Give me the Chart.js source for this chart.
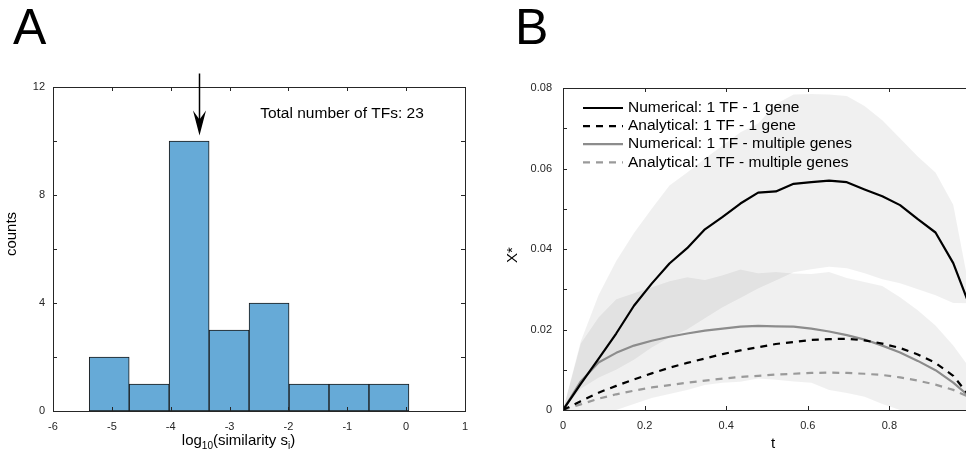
<!DOCTYPE html>
<html>
<head>
<meta charset="utf-8">
<title>TF similarity</title>
<script src="https://cdn.jsdelivr.net/npm/chart.js@4.4.1/dist/chart.umd.min.js"></script>
<style>
  html, body { margin: 0; padding: 0; background: #fff; overflow: hidden; }
  body { width: 966px; height: 455px; position: relative; }
  #wrapA { position: absolute; left: 0; top: 0; }
  #wrapB { position: absolute; left: 480px; top: 0; }
</style>
</head>
<body>
<div id="wrapA"><canvas id="chartA" width="480" height="455"></canvas></div>
<div id="wrapB"><canvas id="chartB" width="500" height="455"></canvas></div>
<script>
const fontFam = '"Liberation Sans", Arial, Helvetica, sans-serif';
const axisColor = '#262626';

// Panel A - histogram of log10 similarity
const binCenters = [-5.045, -4.366, -3.687, -3.008, -2.329, -1.650, -0.971, -0.292];
const binCounts = [2, 1, 10, 3, 4, 1, 1, 1];
const arrowX = -3.52;
const arrowTop = 12.5, arrowTip = 10.2;
const noteText = 'Total number of TFs: 23';
const noteAt = [-2.48, 11.0];

// Panel B - X* over t
const tVals = [0, 0.0435, 0.087, 0.1304, 0.1739, 0.2174, 0.2609, 0.3043, 0.3478, 0.3913, 0.4348, 0.4783,
               0.5217, 0.5652, 0.6087, 0.6522, 0.6957, 0.7391, 0.7826, 0.8261, 0.8696, 0.913, 0.9565, 1.0];
const numOneGene   = [0, 0.0065, 0.0127, 0.019, 0.0259, 0.0314, 0.0364, 0.0402, 0.0449, 0.048, 0.0513, 0.054,
                      0.0543, 0.0562, 0.0566, 0.057, 0.0566, 0.0548, 0.0531, 0.0509, 0.0474, 0.0441, 0.0365, 0.025];
const anaOneGene   = [0, 0.0022, 0.0043, 0.006, 0.0076, 0.0091, 0.0105, 0.0117, 0.0128, 0.0139, 0.0148, 0.0156,
                      0.0164, 0.0169, 0.0174, 0.0176, 0.0177, 0.0173, 0.0165, 0.0154, 0.0138, 0.0117, 0.0085, 0.003];
const numMultiGene = [0, 0.0071, 0.0118, 0.0142, 0.016, 0.0172, 0.0182, 0.019, 0.0197, 0.0202, 0.0207, 0.0209,
                      0.0208, 0.0207, 0.0202, 0.0195, 0.0186, 0.0175, 0.016, 0.0143, 0.0122, 0.0099, 0.0068, 0.003];
const anaMultiGene = [0, 0.0014, 0.0028, 0.0039, 0.0048, 0.0056, 0.0062, 0.0068, 0.0073, 0.0078, 0.0082, 0.0085,
                      0.0088, 0.009, 0.0092, 0.0093, 0.0092, 0.009, 0.0087, 0.0081, 0.0073, 0.0063, 0.005, 0.003];
// shaded spread bands
const bandOneHi   = [0, 0.017, 0.0285, 0.037, 0.044, 0.05, 0.0558, 0.059, 0.0625, 0.0657, 0.069, 0.0712,
                     0.076, 0.0784, 0.0785, 0.0784, 0.078, 0.0755, 0.072, 0.0675, 0.063, 0.059, 0.051, 0.028];
const bandOneLo   = [0, 0.0053, 0.008, 0.01, 0.0125, 0.0155, 0.018, 0.02, 0.0228, 0.0255, 0.0278, 0.0302,
                     0.0322, 0.0342, 0.035, 0.0356, 0.0352, 0.034, 0.0325, 0.0315, 0.03, 0.0285, 0.0266, 0.0265];
const bandMultiHi = [0, 0.0165, 0.023, 0.0275, 0.029, 0.0305, 0.032, 0.033, 0.0323, 0.0335, 0.0349, 0.034,
                     0.0343, 0.0339, 0.0338, 0.0343, 0.0328, 0.0318, 0.0308, 0.028, 0.0248, 0.021, 0.016, 0.01];
const bandMultiLo = [0, 0, 0, 0, 0.0015, 0.003, 0.004, 0.005, 0.0062, 0.0068, 0.007, 0.0078,
                     0.0075, 0.0071, 0.0068, 0.005, 0.0042, 0.0033, 0.0015, 0, 0, 0, 0, 0];
const seriesLabels = ['Numerical: 1 TF - 1 gene', 'Analytical: 1 TF - 1 gene',
                      'Numerical: 1 TF - multiple genes', 'Analytical: 1 TF - multiple genes'];

// MATLAB-like box with inward ticks
const boxTicks = {
  id: 'boxTicks',
  afterDraw(chart) {
    const { ctx, chartArea: a, scales: { x, y } } = chart;
    const len = 4;
    ctx.save();
    ctx.strokeStyle = axisColor;
    ctx.lineWidth = 1;
    ctx.beginPath();
    x.ticks.forEach(t => {
      const px = Math.round(x.getPixelForValue(t.value)) + 0.5;
      ctx.moveTo(px, a.bottom); ctx.lineTo(px, a.bottom - len);
      ctx.moveTo(px, a.top); ctx.lineTo(px, a.top + len);
    });
    y.ticks.forEach(t => {
      const py = Math.round(y.getPixelForValue(t.value)) + 0.5;
      ctx.moveTo(a.left, py); ctx.lineTo(a.left + len, py);
      ctx.moveTo(a.right, py); ctx.lineTo(a.right - len, py);
    });
    ctx.stroke();
    ctx.strokeRect(Math.round(a.left) + 0.5, Math.round(a.top) + 0.5,
                   Math.round(a.right - a.left), Math.round(a.bottom - a.top));
    ctx.restore();
  }
};

function drawRotated(ctx, text, x, y) {
  ctx.save();
  ctx.translate(x, y);
  ctx.rotate(-Math.PI / 2);
  ctx.textAlign = 'center';
  ctx.textBaseline = 'middle';
  ctx.fillText(text, 0, 0);
  ctx.restore();
}

const decorA = {
  id: 'decorA',
  afterDraw(chart) {
    const { ctx, scales: { x, y } } = chart;
    ctx.save();
    ctx.fillStyle = '#000';
    ctx.font = `50px ${fontFam}`;
    ctx.textAlign = 'left';
    ctx.textBaseline = 'alphabetic';
    ctx.fillText('A', 13, 44);

    // annotation
    ctx.font = `15.5px ${fontFam}`;
    ctx.textBaseline = 'middle';
    ctx.fillText(noteText, x.getPixelForValue(noteAt[0]), y.getPixelForValue(noteAt[1]));

    // arrow
    const ax = Math.round(x.getPixelForValue(arrowX)) + 0.5;
    const y0 = y.getPixelForValue(arrowTop), y1 = y.getPixelForValue(arrowTip);
    ctx.strokeStyle = '#000';
    ctx.lineWidth = 1.5;
    ctx.beginPath(); ctx.moveTo(ax, y0); ctx.lineTo(ax, y1 - 14); ctx.stroke();
    ctx.beginPath();
    ctx.moveTo(ax, y1);
    ctx.lineTo(ax - 6.5, y1 - 25);
    ctx.lineTo(ax, y1 - 16);
    ctx.lineTo(ax + 6.5, y1 - 25);
    ctx.closePath();
    ctx.fill();

    // axis titles
    ctx.font = `15px ${fontFam}`;
    drawRotated(ctx, 'counts', 12, 234);
    const parts = [['log', 0], ['10', 1], ['(similarity s', 0], ['i', 1], [')', 0]];
    const fN = `15px ${fontFam}`, fS = `10px ${fontFam}`;
    let w = 0;
    parts.forEach(p => { ctx.font = p[1] ? fS : fN; w += ctx.measureText(p[0]).width; });
    let cx = 238.5 - w / 2;
    ctx.textBaseline = 'alphabetic';
    parts.forEach(p => {
      ctx.font = p[1] ? fS : fN;
      ctx.fillText(p[0], cx, p[1] ? 449 : 445);
      cx += ctx.measureText(p[0]).width;
    });
    ctx.restore();
  }
};

const decorB = {
  id: 'decorB',
  afterDraw(chart) {
    const { ctx, chartArea: a } = chart;
    ctx.save();
    ctx.fillStyle = '#000';
    ctx.font = `50px ${fontFam}`;
    ctx.textAlign = 'left';
    ctx.textBaseline = 'alphabetic';
    ctx.fillText('B', 35, 44);

    // legend, inside the axes, no box
    ctx.font = `15.5px ${fontFam}`;
    ctx.textBaseline = 'middle';
    chart.data.datasets.slice(0, 4).forEach((ds, i) => {
      const yy = a.top + 20 + i * 18.1;
      ctx.strokeStyle = ds.borderColor;
      ctx.lineWidth = ds.borderWidth;
      ctx.setLineDash(ds.borderDash || []);
      ctx.beginPath(); ctx.moveTo(a.left + 20, yy); ctx.lineTo(a.left + 60, yy); ctx.stroke();
      ctx.setLineDash([]);
      ctx.fillText(ds.label, a.left + 65, yy);
    });

    // axis titles
    ctx.font = `15px ${fontFam}`;
    drawRotated(ctx, 'X*', 33, 255);
    ctx.textAlign = 'center';
    ctx.fillText('t', 293, 444);
    ctx.restore();
  }
};

const tickFont = { family: fontFam, size: 11 };
const noGrid = { display: false, drawTicks: false };

// Panel A
new Chart(document.getElementById('chartA'), {
  type: 'bar',
  data: {
    datasets: [{
      data: binCenters.map((c, i) => ({ x: c, y: binCounts[i] })),
      backgroundColor: '#66aad7',
      borderColor: '#1a1a1a',
      borderWidth: 1,
      borderSkipped: false,
      barPercentage: 1,
      categoryPercentage: 1
    }]
  },
  options: {
    responsive: false,
    animation: false,
    devicePixelRatio: 1,
    layout: { padding: { left: 0, right: 15, top: 87, bottom: 0 } },
    plugins: { legend: { display: false }, tooltip: { enabled: false } },
    scales: {
      x: {
        type: 'linear', min: -6, max: 1, offset: false,
        grid: noGrid, border: { display: false },
        ticks: { stepSize: 1, autoSkip: false, maxRotation: 0, padding: 9, color: axisColor, font: tickFont },
        afterFit: s => { s.height = 44; }
      },
      y: {
        min: 0, max: 12,
        grid: noGrid, border: { display: false },
        ticks: { stepSize: 2, padding: 8, color: axisColor, font: tickFont,
                 callback: v => (v % 4 === 0 ? String(v) : '') },
        afterFit: s => { s.width = 53; }
      }
    }
  },
  plugins: [boxTicks, decorA]
});

// Panel B
const pts = arr => tVals.map((t, i) => ({ x: t, y: arr[i] }));
const bandFill = 'rgba(0,0,0,0.06)';

new Chart(document.getElementById('chartB'), {
  type: 'line',
  data: {
    datasets: [
      { label: seriesLabels[0], data: pts(numOneGene), borderColor: '#000', borderWidth: 2.2 },
      { label: seriesLabels[1], data: pts(anaOneGene), borderColor: '#000', borderWidth: 2.2, borderDash: [7, 6] },
      { label: seriesLabels[2], data: pts(numMultiGene), borderColor: '#8c8c8c', borderWidth: 2.2 },
      { label: seriesLabels[3], data: pts(anaMultiGene), borderColor: '#9a9a9a', borderWidth: 2.2, borderDash: [7, 6] },
      { label: 'spread 1 gene', data: pts(bandOneHi), borderWidth: 0, borderColor: 'rgba(0,0,0,0)', backgroundColor: bandFill, fill: '+1' },
      { label: 'spread 1 gene low', data: pts(bandOneLo), borderWidth: 0, borderColor: 'rgba(0,0,0,0)', fill: false },
      { label: 'spread multiple', data: pts(bandMultiHi), borderWidth: 0, borderColor: 'rgba(0,0,0,0)', backgroundColor: bandFill, fill: '+1' },
      { label: 'spread multiple low', data: pts(bandMultiLo), borderWidth: 0, borderColor: 'rgba(0,0,0,0)', fill: false }
    ]
  },
  options: {
    responsive: false,
    animation: false,
    devicePixelRatio: 1,
    elements: { point: { radius: 0 }, line: { tension: 0, borderJoinStyle: 'round' } },
    layout: { padding: { left: 20, right: 7, top: 88, bottom: 0 } },
    plugins: { legend: { display: false }, tooltip: { enabled: false } },
    scales: {
      x: {
        type: 'linear', min: 0, max: 1,
        grid: noGrid, border: { display: false },
        ticks: { stepSize: 0.2, autoSkip: false, maxRotation: 0, padding: 9, color: axisColor, font: tickFont,
                 callback: v => (v === 0 ? '0' : v >= 0.99 ? '' : v.toFixed(1)) },
        afterFit: s => { s.height = 45; }
      },
      y: {
        min: 0, max: 0.08,
        grid: noGrid, border: { display: false },
        ticks: { stepSize: 0.01, padding: 11, color: axisColor, font: tickFont,
                 callback: v => (Math.round(v * 100) % 2 === 0 ? (v === 0 ? '0' : v.toFixed(2)) : '') },
        afterFit: s => { s.width = 63; }
      }
    }
  },
  plugins: [boxTicks, decorB]
});
</script>
</body>
</html>
